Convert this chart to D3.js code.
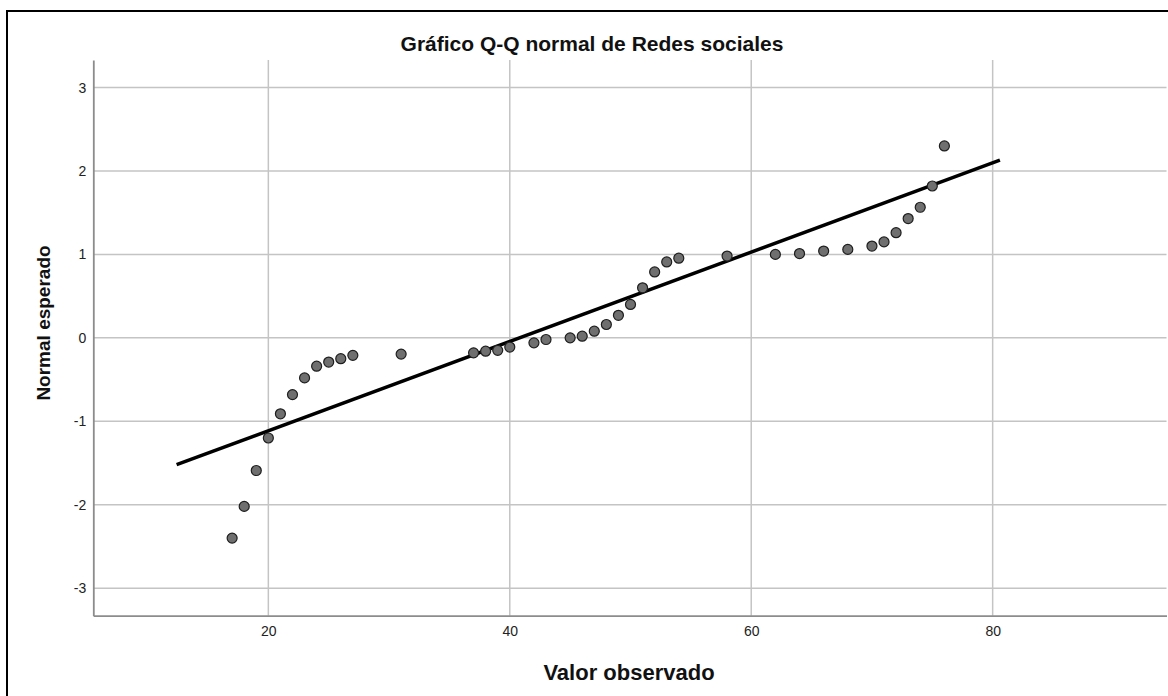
<!DOCTYPE html>
<html>
<head>
<meta charset="utf-8">
<script src="https://cdn.jsdelivr.net/npm/d3@7"></script>
<style>
  body { margin: 0; background: #fff; }
  svg text { font-family: "Liberation Sans", Arial, sans-serif; }
</style>
</head>
<body>
<svg id="chart" width="1168" height="696"></svg>
<script>
// Valores observados (Redes sociales) y normal esperado
const observed = [17, 18, 19, 20, 21, 22, 23, 24, 25, 26, 27, 31, 37, 38, 39, 40, 42, 43, 45, 46,
  47, 48, 49, 50, 51, 52, 53, 54, 58, 62, 64, 66, 68, 70, 71, 72, 73, 74, 75, 76];
const expected = [-2.40, -2.02, -1.59, -1.20, -0.91, -0.68, -0.48, -0.34, -0.29, -0.25, -0.21, -0.195,
  -0.18, -0.16, -0.15, -0.11, -0.06, -0.02, 0.00, 0.02, 0.08, 0.16, 0.27, 0.40, 0.60, 0.79, 0.91, 0.955,
  0.98, 1.00, 1.01, 1.04, 1.06, 1.10, 1.15, 1.26, 1.43, 1.565, 1.82, 2.30];
// recta de referencia (extremos)
const lineObserved = [12.4, 80.6];
const lineExpected = [-1.52, 2.13];
const xTicks = [20, 40, 60, 80];
const yTicks = [-3, -2, -1, 0, 1, 2, 3];

const svg = d3.select("#chart");
const pLeft = 93.3, pRight = 1166.5, pTop = 60, pBottom = 615.7;

const x = d3.scaleLinear().domain([5.5, 94.4]).range([pLeft, pRight]);
const y = d3.scaleLinear().domain([-3.33, 3.33]).range([pBottom, pTop]);

// marco exterior
svg.append("rect")
  .attr("x", 7).attr("y", 11).attr("width", 1200).attr("height", 720)
  .attr("fill", "none").attr("stroke", "#000").attr("stroke-width", 2);

// rejilla
const grid = svg.append("g");
grid.selectAll("line.h").data(yTicks).enter().append("line")
  .attr("x1", pLeft).attr("x2", pRight)
  .attr("y1", d => y(d)).attr("y2", d => y(d))
  .attr("stroke", "#c4c4c4").attr("stroke-width", 1.5);
grid.selectAll("line.v").data(xTicks).enter().append("line")
  .attr("x1", d => x(d)).attr("x2", d => x(d))
  .attr("y1", pTop).attr("y2", pBottom)
  .attr("stroke", "#c4c4c4").attr("stroke-width", 1.5);

// ejes
const xAxis = svg.append("g").attr("transform", `translate(0,${pBottom})`)
  .call(d3.axisBottom(x).tickValues(xTicks).tickSize(0).tickPadding(10).tickFormat(d => String(d)));
const yAxis = svg.append("g").attr("transform", `translate(${pLeft},0)`)
  .call(d3.axisLeft(y).tickValues(yTicks).tickSize(0).tickPadding(7).tickFormat(d => String(d)));
[xAxis, yAxis].forEach(a => {
  a.select(".domain").attr("stroke", "#8c8c8c").attr("stroke-width", 1.8);
  a.selectAll("text").attr("font-size", 14).attr("fill", "#222")
    .style("font-family", "'Liberation Sans', Arial, sans-serif");
});

// recta
svg.append("line")
  .attr("x1", x(lineObserved[0])).attr("y1", y(lineExpected[0]))
  .attr("x2", x(lineObserved[1])).attr("y2", y(lineExpected[1]))
  .attr("stroke", "#000").attr("stroke-width", 3.5);

// puntos
svg.append("g").selectAll("circle").data(observed).enter().append("circle")
  .attr("cx", d => x(d))
  .attr("cy", (d, i) => y(expected[i]))
  .attr("r", 5)
  .attr("fill", "#6f6f6f")
  .attr("stroke", "#1e1e1e")
  .attr("stroke-width", 1.2);

// textos
svg.append("text").attr("x", 592).attr("y", 51).attr("text-anchor", "middle")
  .attr("font-size", 21).attr("font-weight", "bold").attr("fill", "#111")
  .text("Gráfico Q-Q normal de Redes sociales");
svg.append("text").attr("x", 629).attr("y", 680).attr("text-anchor", "middle")
  .attr("font-size", 22).attr("font-weight", "bold").attr("fill", "#111")
  .text("Valor observado");
svg.append("text").attr("transform", "translate(50,323) rotate(-90)").attr("text-anchor", "middle")
  .attr("font-size", 19).attr("font-weight", "bold").attr("fill", "#111")
  .text("Normal esperado");
</script>
</body>
</html>
